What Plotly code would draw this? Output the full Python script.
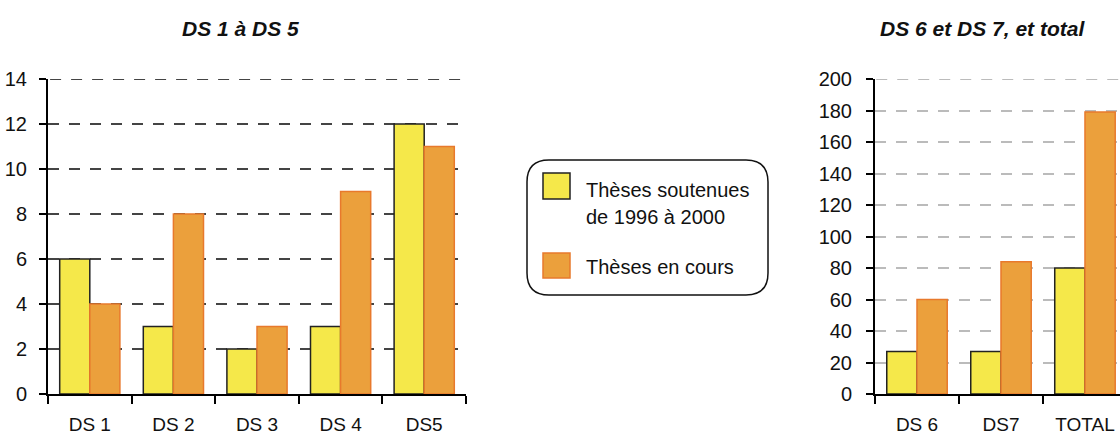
import plotly.graph_objects as go

# Thesis counts per doctoral school
cats_left = ["DS 1", "DS 2", "DS 3", "DS 4", "DS5"]
soutenues_left = [6, 3, 2, 3, 12]
en_cours_left = [4, 8, 3, 9, 11]

cats_right = ["DS 6", "DS7", "TOTAL"]
soutenues_right = [27, 27, 80]
en_cours_right = [60, 84, 179]

yticks_left = [0, 2, 4, 6, 8, 10, 12, 14]
yticks_right = [0, 20, 40, 60, 80, 100, 120, 140, 160, 180, 200]

name_soutenues = "Thèses soutenues de 1996 à 2000"
name_en_cours = "Thèses en cours"

W, H = 1120, 437
YELLOW = "#F5E84A"
ORANGE = "#EBA03C"
ORANGE_EDGE = "#E8792C"
FONT = "Liberation Sans, Arial, sans-serif"
GRID_LEFT = "#444444"
GRID_RIGHT = "#BBBBBB"
DASH = "11px,10px"


def px(x):
    return x / W


def py(y):
    return 1 - y / H


fig = go.Figure()

for xa, ya, cats, s, c in [
    ("x", "y", cats_left, soutenues_left, en_cours_left),
    ("x2", "y2", cats_right, soutenues_right, en_cours_right),
]:
    fig.add_trace(go.Bar(x=cats, y=s, name=name_soutenues, xaxis=xa, yaxis=ya,
                         marker=dict(color=YELLOW, line=dict(color="#222222", width=1.5)),
                         showlegend=False))
    fig.add_trace(go.Bar(x=cats, y=c, name=name_en_cours, xaxis=xa, yaxis=ya,
                         marker=dict(color=ORANGE, line=dict(color=ORANGE_EDGE, width=1.5)),
                         showlegend=False))

ydom = [py(394), py(79)]
common_x = dict(showline=True, linecolor="black", linewidth=2, ticks="outside",
                tickson="boundaries", ticklen=8, tickwidth=2, tickcolor="black",
                showgrid=False, zeroline=False, ticklabelstandoff=12, automargin=False,
                tickfont=dict(family=FONT, size=19, color="#111111"))
common_y = dict(showline=True, linecolor="black", linewidth=2, ticks="outside",
                ticklen=7, tickwidth=2, tickcolor="black", zeroline=False,
                showgrid=True, gridwidth=2, griddash=DASH, automargin=False,
                tickfont=dict(family=FONT, size=20, color="#111111"))

fig.update_layout(
    width=W, height=H,
    margin=dict(l=0, r=0, t=0, b=0, pad=0, autoexpand=False),
    paper_bgcolor="white", plot_bgcolor="white",
    barmode="group", bargap=0.28, bargroupgap=0,
    xaxis=dict(domain=[px(48), px(466)], range=[-0.5, 4.5], anchor="y", **common_x),
    yaxis=dict(domain=ydom, range=[0, 14], tickvals=yticks_left, anchor="x",
               gridcolor=GRID_LEFT, ticklabelstandoff=8, **common_y),
    xaxis2=dict(domain=[px(875), 1.0], range=[-0.5, 2.417], anchor="y2", **common_x),
    yaxis2=dict(domain=ydom, range=[0, 200], tickvals=yticks_right, anchor="x2",
                gridcolor=GRID_RIGHT, ticklabelstandoff=10, **common_y),
)

# Top gridlines at the upper end of each value axis
for xref, yref, yv, col in [("x domain", "y", yticks_left[-1], GRID_LEFT),
                            ("x2 domain", "y2", yticks_right[-1], GRID_RIGHT)]:
    fig.add_shape(type="line", xref=xref, yref=yref, x0=0.005, x1=1, y0=yv, y1=yv,
                  line=dict(color=col, width=2, dash=DASH), layer="below")

title_font = dict(family=FONT, size=21, color="#111111", weight="bold", style="italic")
fig.add_annotation(x=px(240), y=py(28), xref="paper", yref="paper", text="DS 1 à DS 5",
                   showarrow=False, font=title_font, xanchor="center", yanchor="middle")
fig.add_annotation(x=px(982), y=py(28), xref="paper", yref="paper",
                   text="DS 6 et DS 7, et total",
                   showarrow=False, font=title_font, xanchor="center", yanchor="middle")

# Legend drawn as a rounded box with colour swatches
x0, x1, y0, y1, r = 527, 768, 160, 295, 22
path = (f"M {px(x0 + r)},{py(y0)} L {px(x1 - r)},{py(y0)} "
        f"Q {px(x1)},{py(y0)} {px(x1)},{py(y0 + r)} "
        f"L {px(x1)},{py(y1 - r)} Q {px(x1)},{py(y1)} {px(x1 - r)},{py(y1)} "
        f"L {px(x0 + r)},{py(y1)} Q {px(x0)},{py(y1)} {px(x0)},{py(y1 - r)} "
        f"L {px(x0)},{py(y0 + r)} Q {px(x0)},{py(y0)} {px(x0 + r)},{py(y0)} Z")
fig.add_shape(type="path", path=path, xref="paper", yref="paper",
              line=dict(color="#111111", width=1.5), fillcolor="rgba(0,0,0,0)")
fig.add_shape(type="rect", xref="paper", yref="paper",
              x0=px(543), x1=px(570), y0=py(173), y1=py(199),
              fillcolor=YELLOW, line=dict(color="#222222", width=1.5))
fig.add_shape(type="rect", xref="paper", yref="paper",
              x0=px(543), x1=px(570), y0=py(253), y1=py(278),
              fillcolor=ORANGE, line=dict(color=ORANGE_EDGE, width=1.5))

leg_font = dict(family=FONT, size=20, color="#111111")
for text, yc in [("Thèses soutenues", 190), ("de 1996 à 2000", 217), (name_en_cours, 267)]:
    fig.add_annotation(x=px(584), y=py(yc), xref="paper", yref="paper", text=text,
                       showarrow=False, font=leg_font, xanchor="left", yanchor="middle")

fig.write_html("out.html")
